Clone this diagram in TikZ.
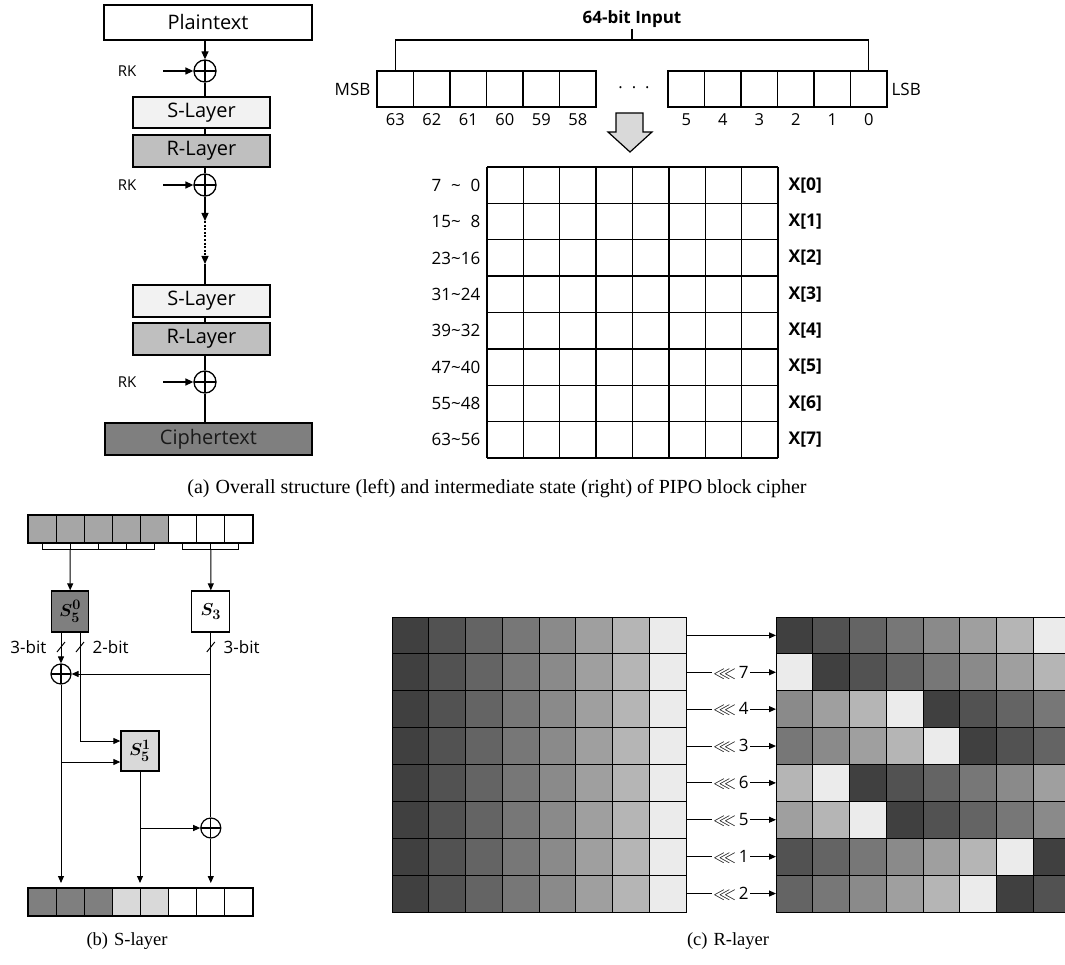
\documentclass[tikz,border=0pt]{standalone}
\usepackage{fontspec}
\usepackage{amssymb}
\usepackage{bm}
\setmainfont{Open Sans}
\newfontfamily\capfont{Liberation Serif}
\usetikzlibrary{arrows.meta,calc}
\definecolor{g0}{HTML}{404040}
\definecolor{g1}{HTML}{525252}
\definecolor{g2}{HTML}{646464}
\definecolor{g3}{HTML}{777777}
\definecolor{g4}{HTML}{8A8A8A}
\definecolor{g5}{HTML}{9F9F9F}
\definecolor{g6}{HTML}{B5B5B5}
\definecolor{g7}{HTML}{EBEBEB}
\definecolor{lgray}{HTML}{F2F2F2}
\definecolor{mgray}{HTML}{BFBFBF}
\definecolor{dgray}{HTML}{7F7F7F}
\definecolor{sgray}{HTML}{A6A6A6}
\definecolor{pgray}{HTML}{D9D9D9}
\begin{document}
\begin{tikzpicture}[x=1pt,y=-1pt,line width=1.3pt,
  arr/.style={-{Triangle[length=8pt,width=7pt]}},
  sarr/.style={line width=1pt,-{Triangle[length=7pt,width=6pt]}},
  lbox/.style={draw,inner sep=0pt,font=\fontsize{20}{23}\selectfont},
  xor/.style={circle,draw,minimum size=22pt,inner sep=0pt,
    path picture={\draw (path picture bounding box.north) -- (path picture bounding box.south)
      (path picture bounding box.west) -- (path picture bounding box.east);}},
  lab/.style={font=\fontsize{15}{18}\selectfont,inner sep=0pt},
  bit/.style={draw,minimum width=36.5pt,minimum height=36pt,inner sep=0pt},
  num/.style={font=\fontsize{16.5}{19}\selectfont,inner sep=0pt},
  rowlab/.style={font=\fontsize{17}{20}\selectfont,inner sep=0pt},
  sbit/.style={draw,line width=1.1pt,minimum width=28.1pt,minimum height=28pt,inner sep=0pt},
  sbox/.style={draw,line width=1.3pt,inner sep=0pt,font=\fontsize{19}{22}\selectfont},
  small/.style={font=\fontsize{17}{20}\selectfont,inner sep=0pt},
  captext/.style={font=\capfont\fontsize{18.5}{21}\selectfont,inner sep=0pt}]
\useasboundingbox (0,0) rectangle (1065,965);
\clip (0,0) rectangle (1065,965);

% ---------------- overall structure (left)
\node[lbox,minimum width=208pt,minimum height=35pt] (pt) at (208,22.5) {Plaintext};
\node[xor] (x1) at (205,71) {};
\node[lab] (rk1) at (127,71) {RK};
\coordinate (k1) at (163,71);
\draw[arr] (x1 |- pt.south) -- (x1.north);
\draw[arr] (k1) -- (x1.west);
\node[lbox,fill=lgray,minimum width=137pt,minimum height=31pt] (sl1) at (201.5,112.5) {S-Layer};
\node[lbox,fill=mgray,minimum width=137pt,minimum height=32pt] (rl1) at (201.5,151) {R-Layer};
\draw (x1.south) -- (x1 |- sl1.north);
\draw (x1 |- sl1.south) -- (x1 |- rl1.north);
\node[xor] (x2) at (205,185) {};
\node[lab] (rk2) at (127,185) {RK};
\coordinate (k2) at (163,185);
\draw (x1 |- rl1.south) -- (x2.north);
\draw[arr] (k2) -- (x2.west);
\coordinate (d1) at (205,221);
\coordinate (d2) at (205,264);
\draw[arr] (x2.south) -- (d1);
\draw[arr,dash pattern=on 2pt off 1.6pt] (d1) -- (d2);
\node[lbox,fill=lgray,minimum width=137pt,minimum height=32pt] (sl2) at (201.5,301) {S-Layer};
\node[lbox,fill=mgray,minimum width=137pt,minimum height=32pt] (rl2) at (201.5,339) {R-Layer};
\draw (d2) -- (x1 |- sl2.north);
\draw (x1 |- sl2.south) -- (x1 |- rl2.north);
\node[xor] (x3) at (205,382) {};
\node[lab] (rk3) at (127,382) {RK};
\coordinate (k3) at (163,382);
\draw (x1 |- rl2.south) -- (x3.north);
\draw[arr] (k3) -- (x3.west);
\node[lbox,fill=dgray,text=black!90,minimum width=207pt,minimum height=32pt] (ct) at (208.5,439) {Ciphertext};
\draw (x3.south) -- (x3 |- ct.north);

% ---------------- 64-bit input (right)
\node[font=\bfseries\fontsize{17}{20}\selectfont,anchor=south,inner sep=1pt] (inp) at (632,29) {64-bit Input};
\foreach \i in {0,...,5} {
  \pgfmathtruncatemacro{\n}{63-\i}
  \node[bit] (L\i) at ({395.25+36.5*\i},89) {};
  \node[num] (nL\i) at ({395.25+36.5*\i},120) {\n};
  \pgfmathtruncatemacro{\m}{5-\i}
  \node[bit] (R\i) at ({686.25+36.5*\i},89) {};
  \node[num] (nR\i) at ({686.25+36.5*\i},120) {\m};
}
\coordinate (bk) at (632,40);
\draw (inp.south) -- (bk);
\draw (L0.north) -- (L0.north |- bk) -- (R5.north |- bk) -- (R5.north);
\node[num,anchor=east,font=\fontsize{17}{20}\selectfont] (msb) at (371,89) {MSB};
\node[num,anchor=west,font=\fontsize{17}{20}\selectfont] (lsb) at (891,89) {LSB};
\node[num] (dots) at (634,90) {·\hspace{9pt}·\hspace{9pt}·};
\draw[line width=1.2pt,fill=pgray] (616,113) -- (643,113) -- (643,132) -- (652,132) -- (630,152) -- (608,132) -- (616,132) -- cycle;

% grid
\foreach \k in {0,...,8} {
  \draw ({487+36.375*\k},167) -- ({487+36.375*\k},458);
  \draw (487,{167+36.375*\k}) -- (778,{167+36.375*\k});
}
\foreach \r in {0,...,7} {
  \pgfmathtruncatemacro{\hi}{8*\r+7}
  \pgfmathtruncatemacro{\lo}{8*\r}
  \node[rowlab,anchor=east] (rowl\r) at (481,{185.2+36.375*\r}) {\makebox[19.5pt][l]{\hi}\textasciitilde\makebox[19.5pt][r]{\lo}};
  \node[rowlab,anchor=west,font=\bfseries\fontsize{17.5}{20}\selectfont] (rowx\r) at (788,{185.2+36.375*\r}) {X[\r]};
}
\node[captext,font=\capfont\fontsize{20}{23}\selectfont] (capa) at (497,489) {(a)\hspace{6pt}Overall structure (left) and intermediate state (right) of PIPO block cipher};

% ---------------- S-layer
\foreach \i in {0,...,7} {
  \ifnum\i<5 \def\fc{sgray}\else\def\fc{white}\fi
  \node[sbit,fill=\fc] (t\i) at ({42.06+28.125*\i},529) {};
}
\foreach \i in {0,...,7} {
  \ifnum\i<3 \def\fc{dgray}\else\ifnum\i<5 \def\fc{pgray}\else\def\fc{white}\fi\fi
  \node[sbit,fill=\fc] (o\i) at ({42.06+28.125*\i},902) {};
}
\draw[line width=1.1pt] (t0.south) -- ([yshift=-6pt]t0.south) -- ([yshift=-6pt]t4.south) -- (t4.south);
\foreach \i in {1,2,3} \draw[line width=1.1pt] (t\i.south) -- ([yshift=-6pt]t\i.south);
\draw[line width=1.1pt] (t5.south) -- ([yshift=-6pt]t5.south) -- ([yshift=-6pt]t7.south) -- (t7.south);
\draw[line width=1.1pt] (t6.south) -- ([yshift=-6pt]t6.south);

\node[sbox,fill=dgray,minimum width=37pt,minimum height=41pt] (s50) at (70.2,611.5) {$\bm{S_5^0}$};
\node[sbox,fill=white,minimum width=38pt,minimum height=41pt] (s3) at (210.8,611.5) {$\bm{S_3}$};
\node[sbox,fill=pgray,minimum width=38pt,minimum height=40pt] (s51) at (140,751) {$\bm{S_5^1}$};
\draw[sarr] ([yshift=-6pt]t1.south) -- (s50.north);
\draw[sarr] ([yshift=-6pt]t6.south) -- (s3.north);

\node[xor,minimum size=20pt,line width=1.2pt] (xa) at (61,674) {};
\node[xor,minimum size=20pt,line width=1.2pt] (xb) at (210.8,828) {};
\coordinate (p1) at (80,741);
\coordinate (p2) at (61,762);
\coordinate (p3) at (140,828);
\coordinate (q1) at (61,883);
\begin{scope}[line width=1pt]
\draw[sarr] (xa |- s50.south) -- (xa.north);
\draw[sarr] (p1 |- s50.south) -- (p1) -- (p1 -| s51.west);
\draw (xb |- s3.south) -- (xb.north);
\draw[sarr] (xb |- xa) -- (xa.east);
\draw[sarr] (p2) -- (p2 -| s51.west);
\draw[sarr] (xa.south) -- (q1);
\draw[sarr] (s51.south) -- (s51.south |- q1);
\draw[sarr] (p3) -- (xb.west);
\draw[sarr] (xb.south) -- (xb |- q1);
\draw (57,652) -- (65,642);
\draw (76,652) -- (84,642);
\draw (206.8,652) -- (214.8,642);
\end{scope}
\node[small,anchor=east] (b3a) at (47,647) {3-bit};
\node[small,anchor=west] (b2) at (92,647) {2-bit};
\node[small,anchor=west] (b3b) at (223,647) {3-bit};
\node[captext] (capb) at (127,941) {(b)\hspace{6pt}S-layer};

% ---------------- R-layer
\foreach \r/\s in {0/0,1/7,2/4,3/3,4/6,5/5,6/1,7/2} {
  \foreach \c in {0,...,7} {
    \pgfmathtruncatemacro{\k}{mod(\c+\s,8)}
    \draw[line width=1pt,fill=g\c] ({392+36.75*\c},{617+36.875*\r}) rectangle ++(36.75,36.875);
    \draw[line width=1pt,fill=g\k] ({776+36.75*\c},{617+36.875*\r}) rectangle ++(36.75,36.875);
  }
  \coordinate (la\r) at (686,{635.4+36.875*\r});
  \coordinate (ra\r) at (776,{635.4+36.875*\r});
}
\draw[sarr] (la0) -- (ra0);
\foreach \r/\s in {1/7,2/4,3/3,4/6,5/5,6/1,7/2} {
  \draw[sarr] (la\r) -- node[fill=white,inner sep=1.5pt,font=\fontsize{17}{20}\selectfont] {$\lll$\,\s} (ra\r);
}
\node[captext] (capc) at (728,941) {(c)\hspace{6pt}R-layer};
\end{tikzpicture}
\end{document}
